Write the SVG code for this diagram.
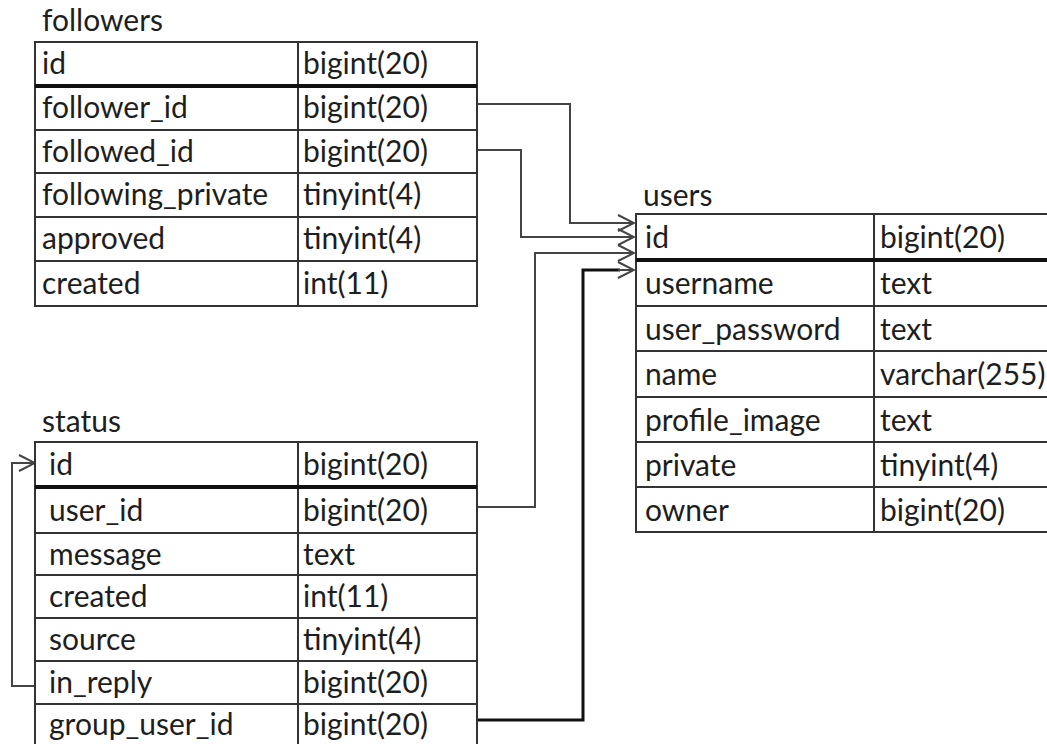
<svg xmlns="http://www.w3.org/2000/svg" width="1047" height="744" viewBox="0 0 1047 744">
  <style>
    .frame { fill: #fff; stroke: #333; stroke-width: 2; }
    .rule { stroke: #333; stroke-width: 2; }
    .pk { stroke: #111; stroke-width: 4; }
    .txt { font-family: Lato, "Liberation Sans", sans-serif; font-size: 30px; fill: #1e1e1e; }
    .link { fill: none; stroke: #444; stroke-width: 2; }
    .link-strong { fill: none; stroke: #111; stroke-width: 3; }
  </style>
  <defs>
    <marker id="open-arrow" viewBox="0 0 18 18" refX="17" refY="9" markerWidth="18" markerHeight="18" markerUnits="userSpaceOnUse" orient="auto">
      <path d="M1,1 L17,9 L1,17" fill="none" stroke="#444" stroke-width="2"/>
    </marker>
  </defs>
  <rect width="1047" height="744" fill="#fff"/>

  <!-- relationship lines -->
  <g id="connectors">
    <path class="link" d="M477,104 H570 V223 H634" marker-end="url(#open-arrow)"/>
    <path class="link" d="M477,150 H521 V237 H634" marker-end="url(#open-arrow)"/>
    <path class="link" d="M477,507 H535 V253 H634" marker-end="url(#open-arrow)"/>
    <path class="link-strong" d="M477,720 H583 V270 H620"/>
    <path class="link" d="M618,270 H634" marker-end="url(#open-arrow)"/>
    <path class="link" d="M35,686 H12 V463 H35" marker-end="url(#open-arrow)"/>
  </g>

  <!-- followers table -->
  <g id="followers">
    <text class="txt" x="42" y="31">followers</text>
    <rect class="frame" x="35" y="42" width="442" height="264"/>
    <line class="rule" x1="298" y1="42" x2="298" y2="306"/>
    <line class="pk" x1="35" y1="86" x2="477" y2="86"/>
    <line class="rule" x1="35" y1="130" x2="477" y2="130"/>
    <line class="rule" x1="35" y1="173" x2="477" y2="173"/>
    <line class="rule" x1="35" y1="217" x2="477" y2="217"/>
    <line class="rule" x1="35" y1="261" x2="477" y2="261"/>
    <text class="txt" x="42" y="74">id</text>
    <text class="txt" x="303" y="74">bigint(20)</text>
    <text class="txt" x="42" y="118">follower_id</text>
    <text class="txt" x="303" y="118">bigint(20)</text>
    <text class="txt" x="42" y="162">followed_id</text>
    <text class="txt" x="303" y="162">bigint(20)</text>
    <text class="txt" x="42" y="205">following_private</text>
    <text class="txt" x="303" y="205">tinyint(4)</text>
    <text class="txt" x="42" y="249">approved</text>
    <text class="txt" x="303" y="249">tinyint(4)</text>
    <text class="txt" x="42" y="294">created</text>
    <text class="txt" x="303" y="294">int(11)</text>
  </g>

  <!-- users table -->
  <g id="users">
    <text class="txt" x="643" y="206">users</text>
    <rect class="frame" x="636" y="214" width="430" height="318"/>
    <line class="rule" x1="874" y1="214" x2="874" y2="532"/>
    <line class="pk" x1="636" y1="260" x2="1047" y2="260"/>
    <line class="rule" x1="636" y1="306" x2="1047" y2="306"/>
    <line class="rule" x1="636" y1="351" x2="1047" y2="351"/>
    <line class="rule" x1="636" y1="397" x2="1047" y2="397"/>
    <line class="rule" x1="636" y1="442" x2="1047" y2="442"/>
    <line class="rule" x1="636" y1="487" x2="1047" y2="487"/>
    <text class="txt" x="645" y="248">id</text>
    <text class="txt" x="880" y="248">bigint(20)</text>
    <text class="txt" x="645" y="294">username</text>
    <text class="txt" x="880" y="294">text</text>
    <text class="txt" x="645" y="340">user_password</text>
    <text class="txt" x="880" y="340">text</text>
    <text class="txt" x="645" y="385">name</text>
    <text class="txt" x="880" y="385">varchar(255)</text>
    <text class="txt" x="645" y="431">profile_image</text>
    <text class="txt" x="880" y="431">text</text>
    <text class="txt" x="645" y="476">private</text>
    <text class="txt" x="880" y="476">tinyint(4)</text>
    <text class="txt" x="645" y="521">owner</text>
    <text class="txt" x="880" y="521">bigint(20)</text>
  </g>

  <!-- status table -->
  <g id="status">
    <text class="txt" x="42" y="432">status</text>
    <rect class="frame" x="35" y="442" width="442" height="310"/>
    <line class="rule" x1="298" y1="442" x2="298" y2="752"/>
    <line class="pk" x1="35" y1="487" x2="477" y2="487"/>
    <line class="rule" x1="35" y1="533" x2="477" y2="533"/>
    <line class="rule" x1="35" y1="575" x2="477" y2="575"/>
    <line class="rule" x1="35" y1="618" x2="477" y2="618"/>
    <line class="rule" x1="35" y1="661" x2="477" y2="661"/>
    <line class="rule" x1="35" y1="704" x2="477" y2="704"/>
    <text class="txt" x="49" y="475">id</text>
    <text class="txt" x="303" y="475">bigint(20)</text>
    <text class="txt" x="49" y="521">user_id</text>
    <text class="txt" x="303" y="521">bigint(20)</text>
    <text class="txt" x="49" y="565">message</text>
    <text class="txt" x="303" y="565">text</text>
    <text class="txt" x="49" y="607">created</text>
    <text class="txt" x="303" y="607">int(11)</text>
    <text class="txt" x="49" y="650">source</text>
    <text class="txt" x="303" y="650">tinyint(4)</text>
    <text class="txt" x="49" y="693">in_reply</text>
    <text class="txt" x="303" y="693">bigint(20)</text>
    <text class="txt" x="49" y="735">group_user_id</text>
    <text class="txt" x="303" y="735">bigint(20)</text>
  </g>
</svg>
